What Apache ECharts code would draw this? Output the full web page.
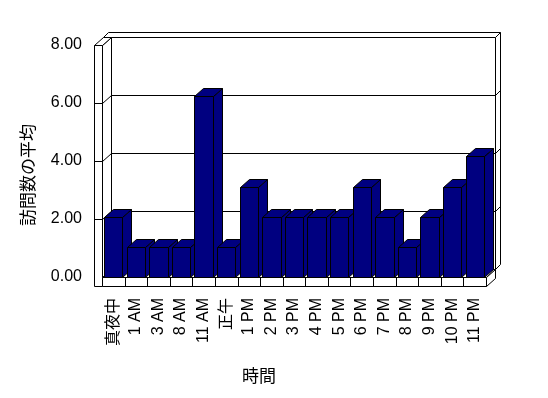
<!DOCTYPE html>
<html><head><meta charset="utf-8">
<script src="https://cdn.jsdelivr.net/npm/echarts@6/dist/echarts.min.js"></script>
<style>html,body{margin:0;padding:0;background:#fff}#c{width:548px;height:398px}</style>
</head><body><div id="c"></div>
<script>
const categories = ['真夜中','1 AM','3 AM','8 AM','11 AM','正午','1 PM','2 PM','3 PM','4 PM','5 PM','6 PM','7 PM','8 PM','9 PM','10 PM','11 PM'];
const values = [2,1,1,1,6,1,3,2,2,2,2,3,2,1,2,3,4];
const yTicks = [0,2,4,6,8];
const yAxisTitle = '訪問数の平均';
const xAxisTitle = '時間';

const DX = 9, DY = -8;
const FONT = "'Liberation Sans', 'Noto Sans CJK JP', sans-serif";
const chart = echarts.init(document.getElementById('c'), null, {renderer: 'canvas'});

function P(x, y) { return [Math.round(x) + 0.5, Math.round(y) + 0.5]; }
const white = {fill: '#fff', stroke: '#000', lineWidth: 1};
const ln = {stroke: '#000', lineWidth: 1, fill: null};
function seg(a, b) { return {type: 'line', shape: {x1: a[0], y1: a[1], x2: b[0], y2: b[1]}, style: ln}; }

function frameRender(params, api) {
  const cs = params.coordSys;
  const x0 = cs.x, x1 = cs.x + cs.width, yT = cs.y, y0 = cs.y + cs.height;
  const wallT = 8, floorT = 9, backT = 5;
  const ch = [];
  // back wall slab
  ch.push({type: 'polygon', shape: {points: [
    P(x0 - wallT + DX, yT + DY), P(x0 - wallT + DX + backT, yT + DY - backT),
    P(x1 + DX + backT, yT + DY - backT), P(x1 + DX + backT, y0 + DY - backT),
    P(x1 + DX, y0 + DY), P(x0 + DX, y0 + DY), P(x0 + DX, yT + DY)]}, style: white});
  ch.push({type: 'polyline', shape: {points: [P(x0 + DX, yT + DY), P(x1 + DX, yT + DY), P(x1 + DX, y0 + DY)]}, style: ln});
  ch.push(seg(P(x1 + DX, yT + DY), P(x1 + DX + backT, yT + DY - backT)));
  // left wall inner face
  ch.push({type: 'polygon', shape: {points: [P(x0, yT), P(x0 + DX, yT + DY), P(x0 + DX, y0 + DY), P(x0, y0)]}, style: white});
  // gridlines
  yTicks.forEach(function (v) {
    if (v === 0 || v === yTicks[yTicks.length - 1]) return;
    const yv = api.coord([0, v])[1];
    ch.push(seg(P(x0, yv), P(x0 + DX, yv + DY)));
    ch.push(seg(P(x0 + DX, yv + DY), P(x1 + DX, yv + DY)));
    ch.push(seg(P(x1 + DX, yv + DY), P(x1 + DX + backT, yv + DY - backT)));
  });
  // left wall top & front face
  ch.push({type: 'polygon', shape: {points: [P(x0 - wallT, yT), P(x0, yT), P(x0 + DX, yT + DY), P(x0 - wallT + DX, yT + DY)]}, style: white});
  ch.push({type: 'polygon', shape: {points: [P(x0 - wallT, yT), P(x0, yT), P(x0, y0 + floorT), P(x0 - wallT, y0 + floorT)]}, style: white});
  yTicks.forEach(function (v) {
    if (v === 0 || v === yTicks[yTicks.length - 1]) return;
    const yv = api.coord([0, v])[1];
    ch.push(seg(P(x0 - wallT, yv), P(x0, yv)));
  });
  // floor
  ch.push({type: 'polygon', shape: {points: [P(x0, y0), P(x1, y0), P(x1 + DX, y0 + DY), P(x0 + DX, y0 + DY)]}, style: white});
  ch.push({type: 'polygon', shape: {points: [P(x0, y0), P(x1, y0), P(x1, y0 + floorT), P(x0, y0 + floorT)]}, style: white});
  ch.push({type: 'polygon', shape: {points: [P(x1, y0), P(x1 + DX, y0 + DY), P(x1 + DX, y0 + DY + floorT), P(x1, y0 + floorT)]}, style: white});
  const bw = cs.width / categories.length;
  for (let i = 1; i < categories.length; i++) {
    ch.push(seg(P(x0 + i * bw, y0), P(x0 + i * bw, y0 + floorT)));
  }
  return {type: 'group', children: ch};
}

function barRender(params, api) {
  const i = api.value(0), v = api.value(1);
  const base = api.coord([i, 0]);
  const top = api.coord([i, v]);
  const bw = api.size([1, 0])[0];
  const w = bw * 0.81;
  const xl = base[0] - w / 2, xr = base[0] + w / 2;
  const ty = top[1], by = base[1];
  const fill = {fill: '#000080', stroke: '#000', lineWidth: 1};
  return {type: 'group', children: [
    {type: 'polygon', shape: {points: [P(xr, ty), P(xr + DX, ty + DY), P(xr + DX, by + DY), P(xr, by)]}, style: fill},
    {type: 'polygon', shape: {points: [P(xl, ty), P(xr, ty), P(xr + DX, ty + DY), P(xl + DX, ty + DY)]}, style: fill},
    {type: 'polygon', shape: {points: [P(xl, ty), P(xr, ty), P(xr, by), P(xl, by)]}, style: fill}
  ]};
}

chart.setOption({
  animation: false,
  backgroundColor: '#fff',
  grid: {left: 102, right: 62, top: 45, bottom: 121, containLabel: false},
  xAxis: {
    type: 'category', data: categories,
    axisLine: {show: false}, axisTick: {show: false}, splitLine: {show: false},
    axisLabel: {interval: 0, rotate: 90, margin: 21, fontSize: 16, color: '#000', fontFamily: FONT}
  },
  yAxis: [{
    type: 'value', min: 0, max: 8, interval: 2,
    axisLine: {show: false}, axisTick: {show: false}, splitLine: {show: false},
    axisLabel: {margin: 20, fontSize: 16, color: '#000', fontFamily: FONT,
      formatter: function (v) { return v.toFixed(2); }}
  }, {
    type: 'value', min: 0, max: 7.7, show: false, splitLine: {show: false}
  }],
  series: [{
    type: 'custom', renderItem: frameRender, data: [[0, 0]], z: 1, silent: true, clip: false
  }, {
    type: 'custom', renderItem: barRender, yAxisIndex: 1, z: 2, silent: true, clip: false,
    data: values.map(function (v, i) { return [i, v]; })
  }],
  graphic: [
    {type: 'text', x: 28, y: 175, rotation: Math.PI / 2,
      style: {text: yAxisTitle, font: "17px 'Noto Sans CJK JP'", fill: '#000', align: 'center', verticalAlign: 'middle'}},
    {type: 'text', x: 259, y: 376,
      style: {text: xAxisTitle, font: "17px 'Noto Sans CJK JP'", fill: '#000', align: 'center', verticalAlign: 'middle'}}
  ]
});
</script>
</body></html>
